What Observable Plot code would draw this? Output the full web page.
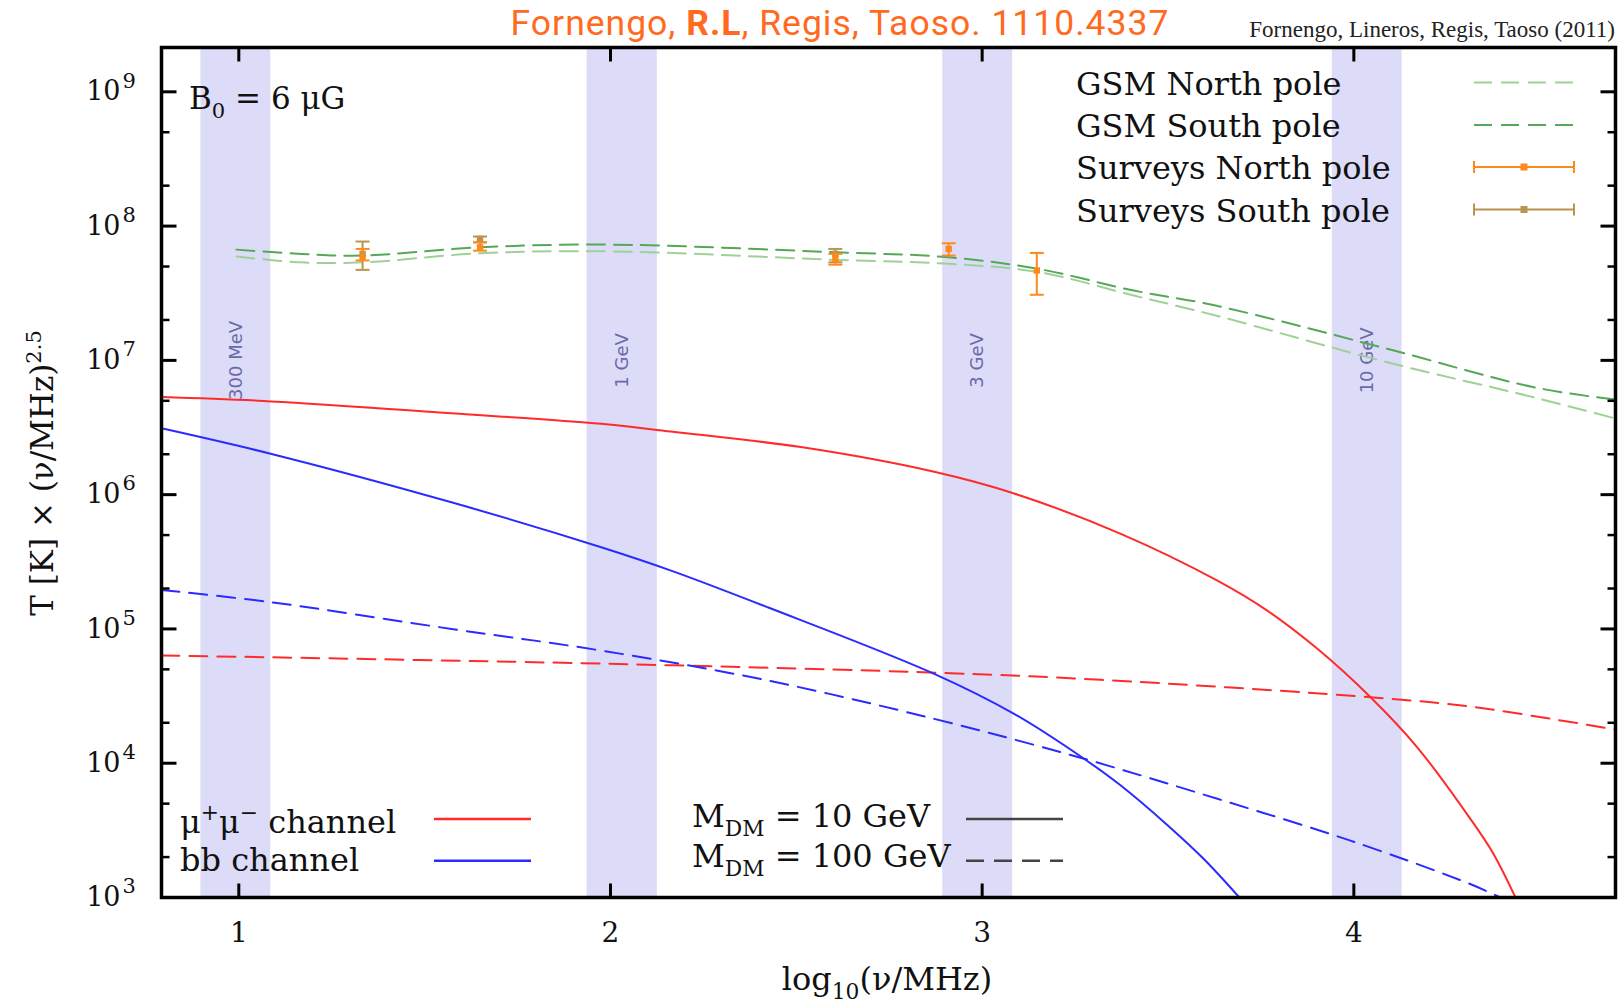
<!DOCTYPE html>
<html>
<head>
<meta charset="utf-8">
<script src="https://cdn.jsdelivr.net/npm/d3@7"></script>
<script src="https://cdn.jsdelivr.net/npm/@observablehq/plot@0.6"></script>
<style>
  html, body { margin: 0; padding: 0; background: #fff; }
  body { width: 1618px; height: 1002px; overflow: hidden; }
  #head { position: relative; width: 1618px; height: 45px; }
  #title { position: absolute; left: 0; top: 3px; width: 1680px; text-align: center;
           font-family: Roboto, "Noto Sans", sans-serif; font-size: 35.5px; line-height: 40px; color: #ff6a1f; letter-spacing: 1px; }
  #title b { font-weight: 700; }
  #credit { position: absolute; right: 3px; top: 17px; font-family: "Liberation Serif", serif;
            font-size: 23px; line-height: 26px; color: #222; white-space: nowrap; }
  #chart svg { display: block; }
</style>
</head>
<body>
<div id="head">
  <div id="title">Fornengo, <b>R.L</b>, Regis, Taoso. 1110.4337</div>
  <div id="credit">Fornengo, Lineros, Regis, Taoso (2011)</div>
</div>
<div id="chart"></div>
<script>
// ---------------- data ----------------
const xTicks = [1, 2, 3, 4];
const yMajorTicks = [1e3, 1e4, 1e5, 1e6, 1e7, 1e8, 1e9];
const yMinorTicks = [2e3, 5e3, 2e4, 5e4, 2e5, 5e5, 2e6, 5e6, 2e7, 5e7, 2e8, 5e8];

const bandNames = ["300 MeV", "1 GeV", "3 GeV", "10 GeV"];
const bandLo = [0.898, 1.937, 2.894, 3.942];
const bandHi = [1.086, 2.126, 3.082, 4.130];
const bandLabelLevel = 1e7;

// mu+mu- channel, M_DM = 10 GeV (solid red)
const muSolidX = [0.792, 1.088, 1.572, 1.975, 2.163, 2.512, 2.871, 3.086, 3.373, 3.633, 3.767, 3.902, 4.045, 4.170, 4.313, 4.375, 4.435];
const muSolidT = [5.33e6, 4.95e6, 4.04e6, 3.37e6, 2.95e6, 2.26e6, 1.48e6, 1.02e6, 5.11e5, 2.29e5, 1.37e5, 7.11e4, 3.10e4, 1.32e4, 3.87e3, 2.13e3, 1.0e3];
// bb channel, M_DM = 10 GeV (solid blue)
const bbSolidX = [0.792, 1.088, 1.572, 1.975, 2.163, 2.423, 2.871, 3.086, 3.274, 3.373, 3.498, 3.595, 3.692];
const bbSolidT = [3.12e6, 2.01e6, 8.77e5, 4.06e5, 2.72e5, 1.45e5, 4.63e4, 2.33e4, 1.08e4, 6.82e3, 3.47e3, 1.95e3, 1.0e3];
// bb channel, M_DM = 100 GeV (dashed blue)
const bbDashX = [0.792, 1.088, 1.572, 1.975, 2.423, 2.871, 3.274, 3.633, 3.991, 4.313, 4.394];
const bbDashT = [1.95e5, 1.58e5, 1.00e5, 6.90e4, 4.13e4, 2.14e4, 1.08e4, 5.43e3, 2.65e3, 1.26e3, 1.0e3];
// mu+mu- channel, M_DM = 100 GeV (dashed red)
const muDashX = [0.792, 1.993, 2.916, 3.319, 4.045, 4.313, 4.704];
const muDashT = [6.35e4, 5.50e4, 4.68e4, 4.18e4, 3.10e4, 2.64e4, 1.78e4];

// GSM model
const gsmX = [0.994, 1.169, 1.333, 1.649, 1.991, 2.609, 2.910, 3.151, 3.408, 3.628, 4.090, 4.484, 4.704];
const gsmSouthT = [6.68e7, 6.21e7, 6.03e7, 6.95e7, 7.28e7, 6.38e7, 5.86e7, 4.80e7, 3.31e7, 2.56e7, 1.22e7, 6.31e6, 5.10e6];
const gsmNorthT = [5.93e7, 5.37e7, 5.37e7, 6.27e7, 6.49e7, 5.60e7, 5.24e7, 4.55e7, 3.04e7, 2.16e7, 9.68e6, 5.31e6, 3.69e6];

// Surveys
const survNorthX  = [1.333, 1.649, 2.605, 2.910, 3.147];
const survNorthT  = [5.83e7, 6.95e7, 5.70e7, 6.76e7, 4.67e7];
const survNorthLo = [5.55e7, 6.56e7, 5.16e7, 6.03e7, 3.08e7];
const survNorthHi = [6.76e7, 7.57e7, 6.21e7, 7.45e7, 6.31e7];
const survSouthX  = [1.333, 1.649, 2.605];
const survSouthT  = [6.21e7, 8.02e7, 6.21e7];
const survSouthLo = [4.72e7, 7.57e7, 5.37e7];
const survSouthHi = [7.67e7, 8.36e7, 6.76e7];

// ---------------- tables ----------------
const curve = (xs, ts) => xs.map((x, i) => ({x, t: ts[i]}));
const bands = bandNames.map((name, i) => ({name, lo: bandLo[i], hi: bandHi[i], mid: (bandLo[i] + bandHi[i]) / 2}));
const surveys = (xs, ts, lo, hi) => xs.map((x, i) => ({x, t: ts[i], lo: lo[i], hi: hi[i]}));
const north = surveys(survNorthX, survNorthT, survNorthLo, survNorthHi);
const south = surveys(survSouthX, survSouthT, survSouthLo, survSouthHi);

const RED = "#ff2b2b", BLUE = "#2b2bff";
const GREEN_D = "#55a855", GREEN_L = "#9fd196";
const ORANGE = "#ff8a1c", TAN = "#b8944f";
const BAND = "#dcdcf8";

// custom symbols (length = r)
const sym = f => ({draw(ctx, size) { const r = Math.sqrt(size / Math.PI); f(ctx, r); }});
const tickRight = sym((c, r) => { c.moveTo(0, 0); c.lineTo(r, 0); });
const tickLeft  = sym((c, r) => { c.moveTo(0, 0); c.lineTo(-r, 0); });
const tickUp    = sym((c, r) => { c.moveTo(0, 0); c.lineTo(0, -r); });
const tickDown  = sym((c, r) => { c.moveTo(0, 0); c.lineTo(0, r); });
const capSym    = sym((c, r) => { c.moveTo(-r, 0); c.lineTo(r, 0); });

const lineOpts = (stroke, dash) => ({x: "x", y: "t", stroke, strokeWidth: 2, curve: "catmull-rom", clip: true,
                                     strokeDasharray: dash});

const axisTicks = [];
for (const [anchor, s] of [["left", tickRight], ["right", tickLeft]]) {
  axisTicks.push(Plot.dot(yMajorTicks, {y: d => d, frameAnchor: anchor, symbol: s, r: 15, stroke: "#000", strokeWidth: 3, fill: "none"}));
  axisTicks.push(Plot.dot(yMinorTicks, {y: d => d, frameAnchor: anchor, symbol: s, r: 8, stroke: "#000", strokeWidth: 2.5, fill: "none"}));
}
axisTicks.push(Plot.dot(xTicks, {x: d => d, frameAnchor: "bottom", symbol: tickUp, r: 14, stroke: "#000", strokeWidth: 3, fill: "none"}));
axisTicks.push(Plot.dot(xTicks, {x: d => d, frameAnchor: "top", symbol: tickDown, r: 14, stroke: "#000", strokeWidth: 3, fill: "none"}));

const plot = Plot.plot({
  width: 1618,
  height: 957,
  marginLeft: 161,
  marginRight: 3,
  marginTop: 2,
  marginBottom: 105,
  style: {fontFamily: "DejaVu Serif", background: "#fff", color: "#111", overflow: "visible"},
  x: {type: "linear", domain: [0.792, 4.704], axis: null},
  y: {type: "log", domain: [1e3, Math.pow(10, 9.33)], axis: null},
  marks: [
    Plot.rect(bands, {x1: "lo", x2: "hi", fill: BAND}),
    Plot.text(bands, {x: "mid", y: () => bandLabelLevel, text: "name", rotate: -90, fontFamily: "DejaVu Sans",
                      fontSize: 18, fill: "#6a6aa8"}),
    Plot.line(curve(gsmX, gsmNorthT), lineOpts(GREEN_L, "18,9")),
    Plot.line(curve(gsmX, gsmSouthT), lineOpts(GREEN_D, "18,9")),
    Plot.ruleX(south, {x: "x", y1: "lo", y2: "hi", stroke: TAN, strokeWidth: 2}),
    Plot.dot(south, {x: "x", y: "lo", symbol: capSym, r: 7, stroke: TAN, strokeWidth: 2, fill: "none"}),
    Plot.dot(south, {x: "x", y: "hi", symbol: capSym, r: 7, stroke: TAN, strokeWidth: 2, fill: "none"}),
    Plot.dot(south, {x: "x", y: "t", symbol: "square", r: 3.6, fill: TAN}),
    Plot.ruleX(north, {x: "x", y1: "lo", y2: "hi", stroke: ORANGE, strokeWidth: 2}),
    Plot.dot(north, {x: "x", y: "lo", symbol: capSym, r: 7, stroke: ORANGE, strokeWidth: 2, fill: "none"}),
    Plot.dot(north, {x: "x", y: "hi", symbol: capSym, r: 7, stroke: ORANGE, strokeWidth: 2, fill: "none"}),
    Plot.dot(north, {x: "x", y: "t", symbol: "square", r: 3.6, fill: ORANGE}),
    Plot.line(curve(muDashX, muDashT), lineOpts(RED, "18,10")),
    Plot.line(curve(bbDashX, bbDashT), lineOpts(BLUE, "18,10")),
    Plot.line(curve(muSolidX, muSolidT), lineOpts(RED)),
    Plot.line(curve(bbSolidX, bbSolidT), lineOpts(BLUE)),
    ...axisTicks,
    Plot.text(yMajorTicks, {y: d => d, frameAnchor: "left", text: () => "10", dx: -41, textAnchor: "end",
                            lineAnchor: "middle", fontSize: 27, fill: "#111"}),
    Plot.text(yMajorTicks, {y: d => d, frameAnchor: "left", text: d => String(Math.round(Math.log10(d))), dx: -39, dy: -11,
                            textAnchor: "start", lineAnchor: "middle", fontSize: 21, fill: "#111"}),
    Plot.text(xTicks, {x: d => d, frameAnchor: "bottom", text: d => String(d), dy: 36, lineAnchor: "middle",
                       fontSize: 28, fill: "#111"}),
    Plot.frame({stroke: "#000", strokeWidth: 3.5})
  ]
});
document.getElementById("chart").appendChild(plot);

// ---------------- annotations & legends ----------------
const svg = d3.select(plot);
const g = svg.append("g").attr("font-family", "DejaVu Serif").attr("fill", "#111").attr("text-anchor", "start");
function rich(x, y, parts, size, opts = {}) {
  const t = g.append("text").attr("x", x).attr("y", y).attr("font-size", size)
    .attr("text-anchor", opts.anchor || "start");
  if (opts.transform) t.attr("transform", opts.transform);
  let shift = 0;
  for (const [s, kind] of parts) {
    const target = kind === "sub" ? size * 0.28 : kind === "sup" ? -size * 0.4 : 0;
    const ts = t.append("tspan").text(s).attr("dy", target - shift);
    if (kind) ts.attr("font-size", size * 0.68);
    shift = target;
  }
  return t;
}
// axis titles
rich(0, 0, [["T [K] \u00d7 (\u03bd/MHz)", null], ["2.5", "sup"]], 31, {anchor: "middle", transform: "translate(53,428) rotate(-90)"});
rich(887, 945, [["log", null], ["10", "sub"], ["(\u03bd/MHz)", null]], 32, {anchor: "middle"});
// B0 annotation
rich(189, 64, [["B", null], ["0", "sub"], [" = 6 \u03bcG", null]], 31);

// top-right legend
const trText = ["GSM North pole", "GSM South pole", "Surveys North pole", "Surveys South pole"];
const trY = [37.5, 80, 122, 164.5];
trText.forEach((s, i) => rich(1076, trY[i] + 12, [[s, null]], 32));
const lx1 = 1474, lx2 = 1574;
[[GREEN_L, 0], [GREEN_D, 1]].forEach(([c, i]) => {
  g.append("line").attr("x1", lx1).attr("x2", lx2).attr("y1", trY[i]).attr("y2", trY[i])
    .attr("stroke", c).attr("stroke-width", 2).attr("stroke-dasharray", "18,9");
});
[[ORANGE, 2], [TAN, 3]].forEach(([c, i]) => {
  const y = trY[i];
  g.append("line").attr("x1", lx1).attr("x2", lx2).attr("y1", y).attr("y2", y).attr("stroke", c).attr("stroke-width", 2);
  g.append("line").attr("x1", lx1).attr("x2", lx1).attr("y1", y - 6).attr("y2", y + 6).attr("stroke", c).attr("stroke-width", 2);
  g.append("line").attr("x1", lx2).attr("x2", lx2).attr("y1", y - 6).attr("y2", y + 6).attr("stroke", c).attr("stroke-width", 2);
  g.append("rect").attr("x", (lx1 + lx2) / 2 - 3.5).attr("y", y - 3.5).attr("width", 7).attr("height", 7).attr("fill", c);
});

// bottom-left legend
rich(180, 788, [["\u03bc", null], ["+", "sup"], ["\u03bc", null], ["\u2212", "sup"], [" channel", null]], 32);
rich(180, 826, [["bb channel", null]], 32);
g.append("line").attr("x1", 434).attr("x2", 531).attr("y1", 774).attr("y2", 774).attr("stroke", RED).attr("stroke-width", 2.5);
g.append("line").attr("x1", 434).attr("x2", 531).attr("y1", 815.7).attr("y2", 815.7).attr("stroke", BLUE).attr("stroke-width", 2.5);
rich(692, 782, [["M", null], ["DM", "sub"], [" = 10 GeV", null]], 32);
rich(692, 822, [["M", null], ["DM", "sub"], [" = 100 GeV", null]], 32);
g.append("line").attr("x1", 966).attr("x2", 1063).attr("y1", 774).attr("y2", 774).attr("stroke", "#444").attr("stroke-width", 2.5);
g.append("line").attr("x1", 966).attr("x2", 1063).attr("y1", 815.7).attr("y2", 815.7).attr("stroke", "#444").attr("stroke-width", 2.5).attr("stroke-dasharray", "18,10");
</script>
</body>
</html>
